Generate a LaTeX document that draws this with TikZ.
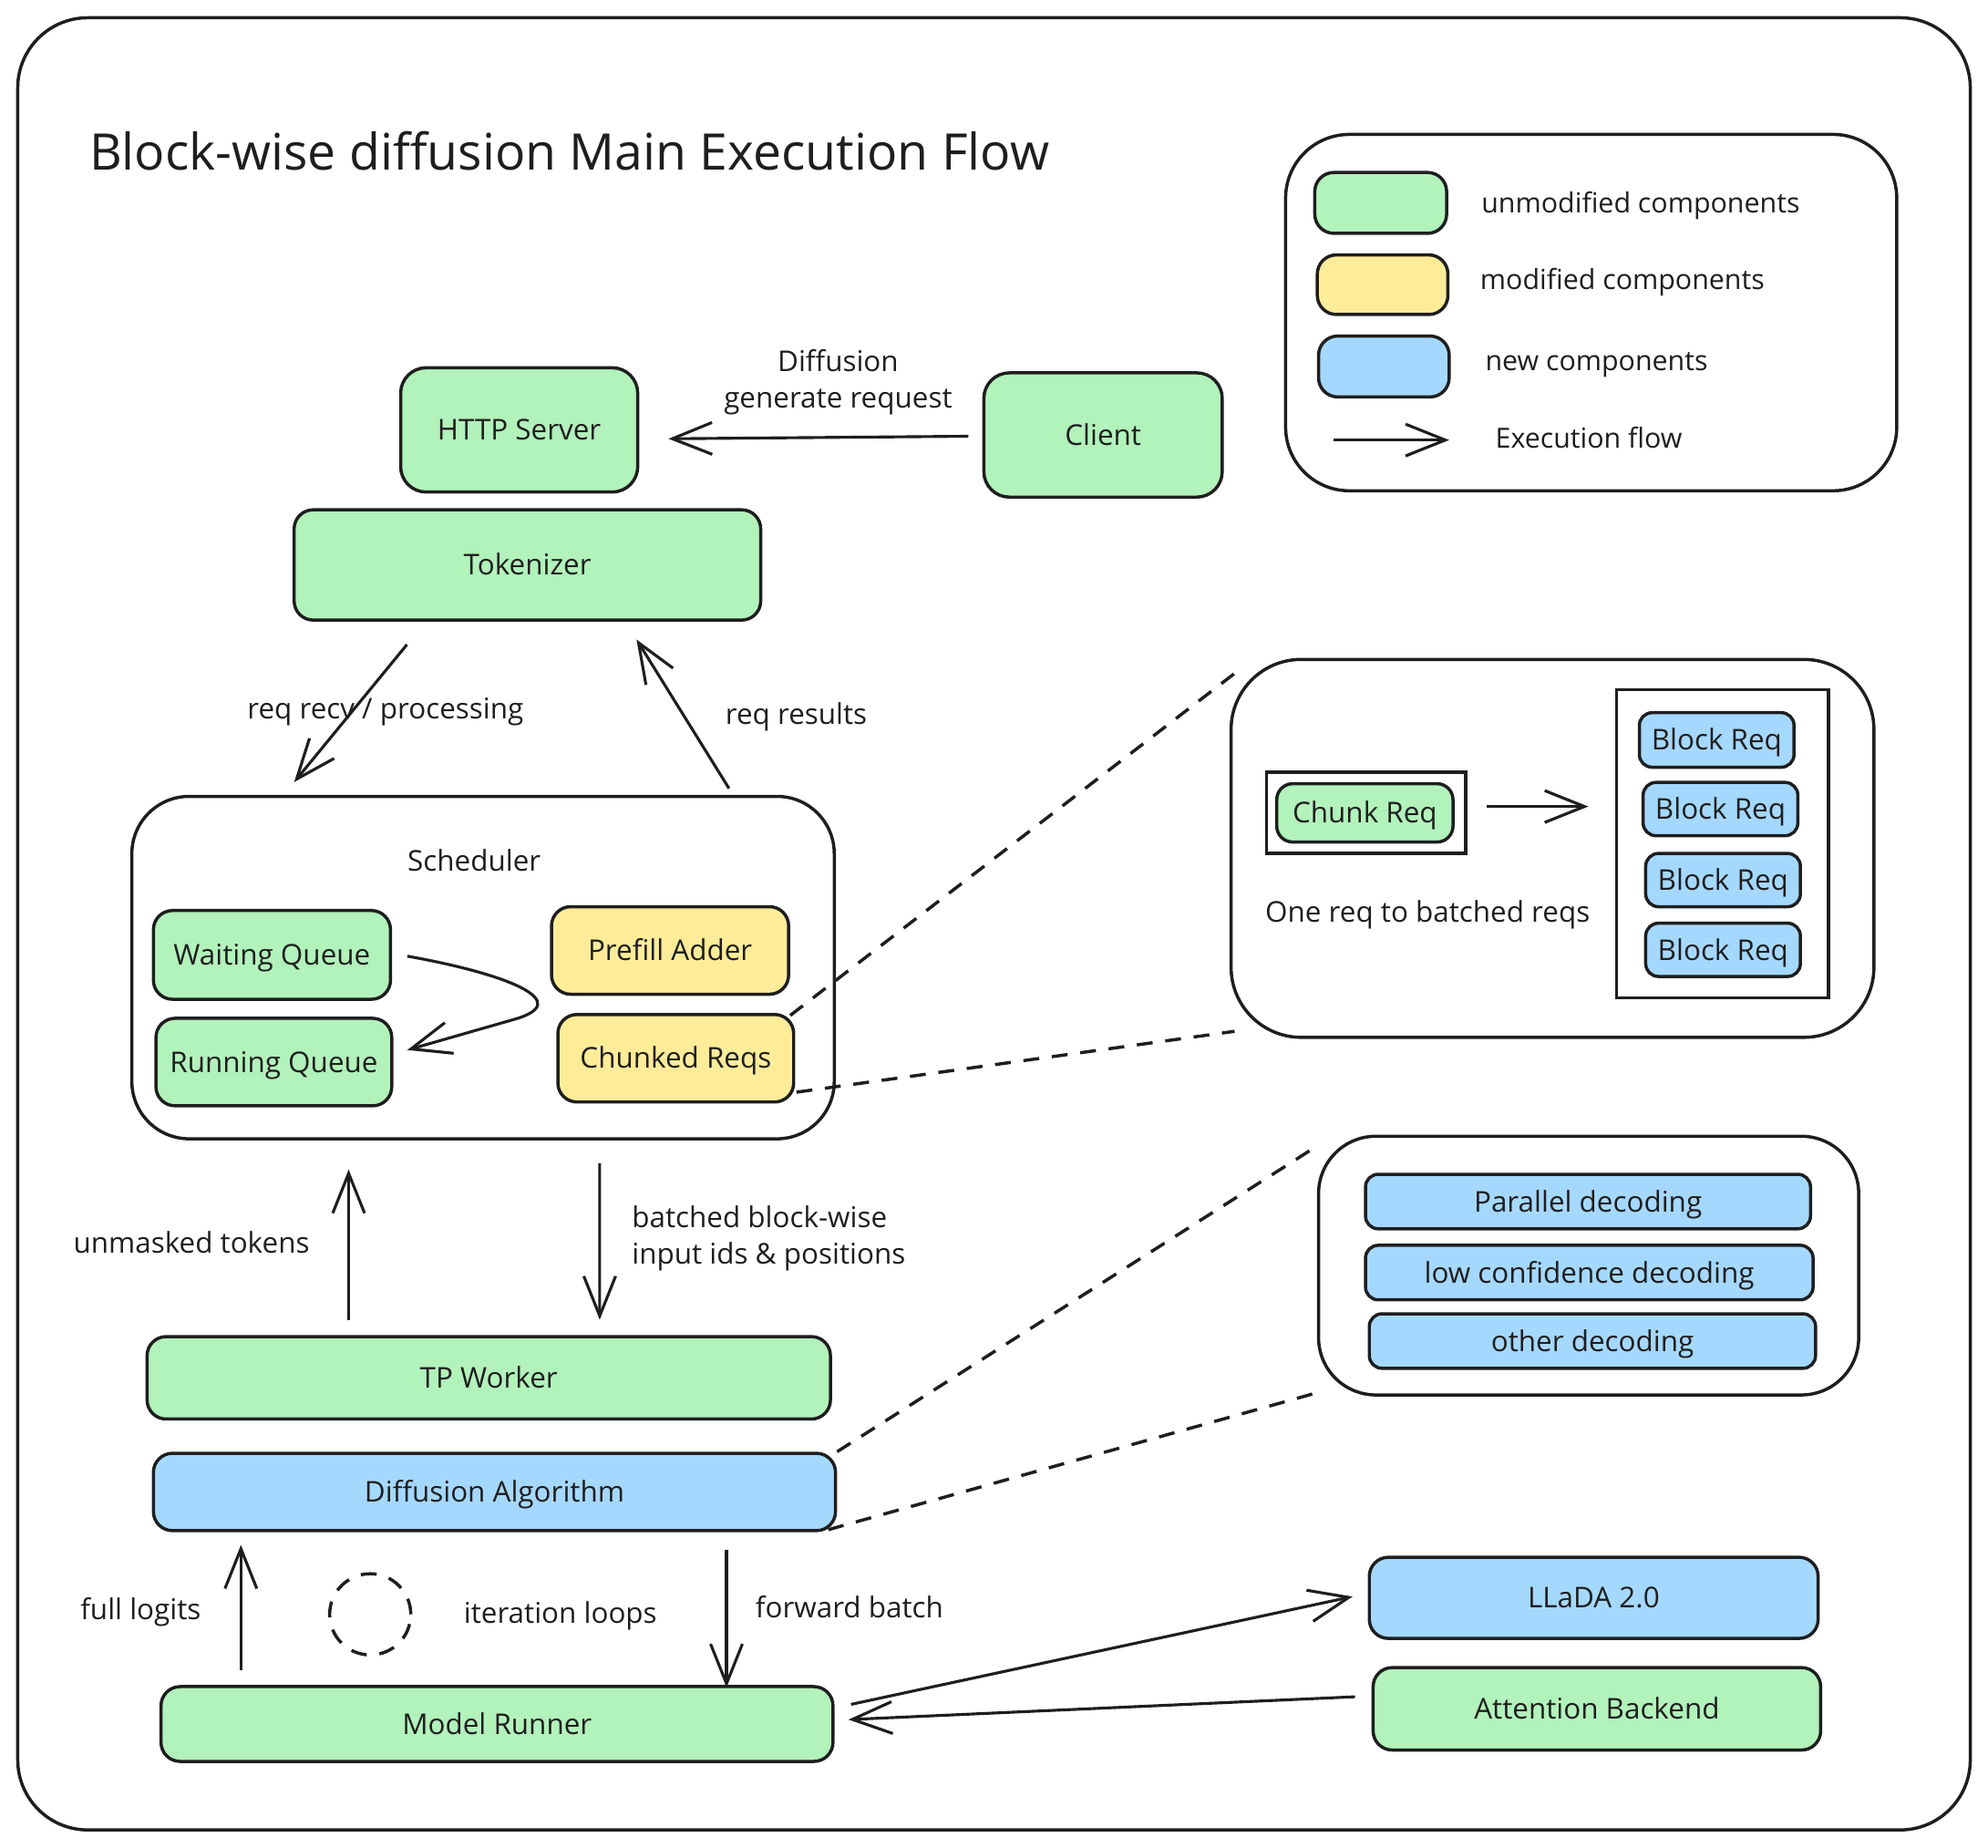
\documentclass[tikz,border=0pt]{standalone}
\usepackage{fontspec}
\setmainfont{Open Sans}
\usetikzlibrary{arrows.meta,calc}

\definecolor{ink}{HTML}{1E1E1E}
\definecolor{unmod}{HTML}{B2F2BB}
\definecolor{modif}{HTML}{FFEC99}
\definecolor{newc}{HTML}{A5D8FF}
\newcommand{\pxu}{0.014cm}

\tikzset{
  sz/.style 2 args={minimum width=#1*\pxu, minimum height=#2*\pxu},
  box/.style={draw=ink, line width=1pt, rounded corners=6pt, text=ink, font=\fontsize{9}{11}\selectfont, inner sep=0pt, text height=6.4pt, text depth=0pt},
  greenbox/.style={box, fill=unmod},
  yellowbox/.style={box, fill=modif},
  bluebox/.style={box, fill=newc},
  smallbox/.style={rounded corners=4pt},
  frame/.style={draw=ink, line width=1pt, rounded corners=20pt, fill=white, inner sep=0pt},
  plainframe/.style={draw=ink, line width=1pt, inner sep=0pt},
  flow/.style={draw=ink, line width=0.9pt, -{Straight Barb[length=12.5pt, width=10pt, line width=0.9pt]}},
  link/.style={draw=ink, line width=1pt, dash pattern=on 5pt off 4pt},
  lbl/.style={text=ink, font=\fontsize{9}{11.5}\selectfont, inner sep=0pt, align=center, text height=6.4pt, text depth=0pt},
  keylbl/.style={lbl, anchor=west, font=\fontsize{8.7}{11}\selectfont},
}

\begin{document}
\begin{tikzpicture}[x=0.014cm, y=-0.014cm]
    \useasboundingbox (0,0) rectangle (1568,1457);

    % Frame and title
    \node[frame, rounded corners=22pt, sz={1540}{1429}, fill=none] (outer) at (784,728.5) {};
    \node[lbl, anchor=west, font=\fontsize{15.85}{18}\selectfont, text height=11.3pt] (title) at (70,120) {Block-wise diffusion Main Execution Flow};

    % Legend
    \node[frame, sz={482}{281}] (legend) at (1255,246.5) {};
    \node[greenbox, sz={104}{48}] (legG) at (1089,160) {};
    \node[keylbl] (legGt) at (1168,160) {unmodified components};
    \node[yellowbox, sz={103}{47}] (legY) at (1090.5,224.5) {};
    \node[keylbl] (legYt) at (1167,220) {modified components};
    \node[bluebox, sz={103}{48}] (legB) at (1091.5,289) {};
    \node[keylbl] (legBt) at (1171,284) {new components};
    \coordinate (legA1) at (1052,347);
    \coordinate (legA2) at (1143,347);
    \draw[flow] (legA1) -- (legA2);
    \node[keylbl] (legFt) at (1179,345) {Execution flow};

    % Front end
    \node[greenbox, rounded corners=8pt, sz={187}{98}] (http) at (409.5,339) {HTTP Server};
    \node[greenbox, rounded corners=8pt, sz={188}{98}] (client) at (870,343) {Client};
    \node[greenbox, sz={368}{87}] (tok) at (416,445.5) {Tokenizer};
    \draw[flow] ($(client.west)+(-11,1)$) -- ($(http.east)+(23,7)$);
    \node[lbl] (reqlbl) at (661,314) {Diffusion\\generate request};

    % Scheduler
    \node[frame, rounded corners=18pt, sz={554}{270}] (sched) at (381,763) {};
    \node[lbl] (schedlbl) at (374,679) {Scheduler};
    \node[greenbox, sz={187}{70}] (wq) at (214.5,753) {Waiting Queue};
    \node[greenbox, sz={186}{69}] (rq) at (216,837.5) {Running Queue};
    \node[yellowbox, sz={187}{69}] (pa) at (528.5,749.5) {Prefill Adder};
    \node[yellowbox, sz={186}{69}] (cr) at (533,834.5) {Chunked Reqs};
    \draw[flow] ($(wq.east)+(12,1)$) .. controls (400,768) and (455,790) .. (405,804) -- ($(rq.east)+(11,-9.5)$);

    \draw[flow] ($(tok.south)+(-95,18)$) -- ($(sched.north)+(-149,-10)$);
    \node[lbl] (recvlbl) at (304,559) {req recv / processing};
    \draw[flow] ($(sched.north)+(194,-5)$) -- ($(tok.south)+(86,14)$);
    \node[lbl] (reslbl) at (628,563) {req results};

    % Chunk to block reqs
    \node[frame, rounded corners=22pt, sz={507}{298}] (detail) at (1224.5,669) {};
    \node[plainframe, sz={157}{64}] (chunkfrm) at (1077.5,641) {};
    \node[greenbox, rounded corners=5pt, sz={139}{46}] (chunk) at (1076.5,641) {Chunk Req};
    \node[plainframe, sz={167}{243}] (batchfrm) at (1358.5,665.5) {};
    \node[bluebox, smallbox, sz={122}{43}] (blk1) at (1354,583.5) {Block Req};
    \node[bluebox, smallbox, sz={122}{42}] (blk2) at (1357,638) {Block Req};
    \node[bluebox, smallbox, sz={122}{42}] (blk3) at (1359,694) {Block Req};
    \node[bluebox, smallbox, sz={122}{42}] (blk4) at (1359,749) {Block Req};
    \draw[flow] ($(chunkfrm.east)+(15,-5)$) -- ($(batchfrm.west)+(-21,-29.5)$);
    \node[lbl] (onereq) at (1126,719) {One req to batched reqs};
    \draw[link] ($(cr.north east)+(-4,2)$) -- ($(detail.north west)+(7,10)$);
    \draw[link] ($(cr.south east)+(1,-9)$) -- ($(detail.south west)+(4,-6)$);

    % Worker
    \node[greenbox, sz={539}{65}] (tp) at (385.5,1086.5) {TP Worker};
    \node[bluebox, sz={538}{61}] (diff) at (390,1176.5) {Diffusion Algorithm};
    \draw[flow] ($(tp.north)+(-110.5,-12)$) -- ($(sched.south)+(-106,23)$);
    \node[lbl] (unmlbl) at (151,980) {unmasked tokens};
    \draw[flow] ($(sched.south)+(92,18)$) -- ($(tp.north)+(87.5,-12)$);
    \node[lbl, anchor=west, align=left] (batlbl) at (498,988.5) {batched block-wise\\input ids \& positions};

    % Decoding
    \node[frame, rounded corners=18pt, sz={426}{204}] (dec) at (1253,998) {};
    \node[bluebox, smallbox, sz={351}{43}] (par) at (1252.5,947.5) {Parallel decoding};
    \node[bluebox, smallbox, sz={353}{43}] (low) at (1253.5,1003.5) {low confidence decoding};
    \node[bluebox, smallbox, sz={352}{43}] (oth) at (1256,1057.5) {other decoding};
    \draw[link] (diff.north east) -- ($(dec.north west)+(0,9)$);
    \draw[link] ($(diff.south east)+(-7,-2)$) -- ($(dec.south west)+(0,-3)$);

    % Model runner
    \node[greenbox, sz={530}{59}] (mr) at (392,1359.5) {Model Runner};
    \node[bluebox, sz={354}{64}] (llada) at (1257,1260) {LLaDA 2.0};
    \node[greenbox, sz={353}{65}] (attn) at (1259.5,1347.5) {Attention Backend};
    \draw[flow] ($(mr.north)+(-202,-12)$) -- ($(diff.south)+(-200,10)$);
    \node[lbl] (logitlbl) at (111,1269) {full logits};
    \node[draw=ink, circle, line width=1pt, dash pattern=on 5pt off 4pt, sz={64}{64}] (loop) at (292,1273) {};
    \node[lbl] (looplbl) at (442,1272) {iteration loops};
    \draw[flow] ($(diff.south)+(183,14)$) -- ($(mr.north)+(181,2)$);
    \node[lbl] (fwdlbl) at (670,1268) {forward batch};
    \draw[flow] ($(mr.east)+(13,-15.5)$) -- ($(llada.west)+(-12,-1)$);
    \draw[flow] ($(attn.west)+(-13,-9.5)$) -- ($(mr.east)+(11,-3.5)$);
\end{tikzpicture}
\end{document}
